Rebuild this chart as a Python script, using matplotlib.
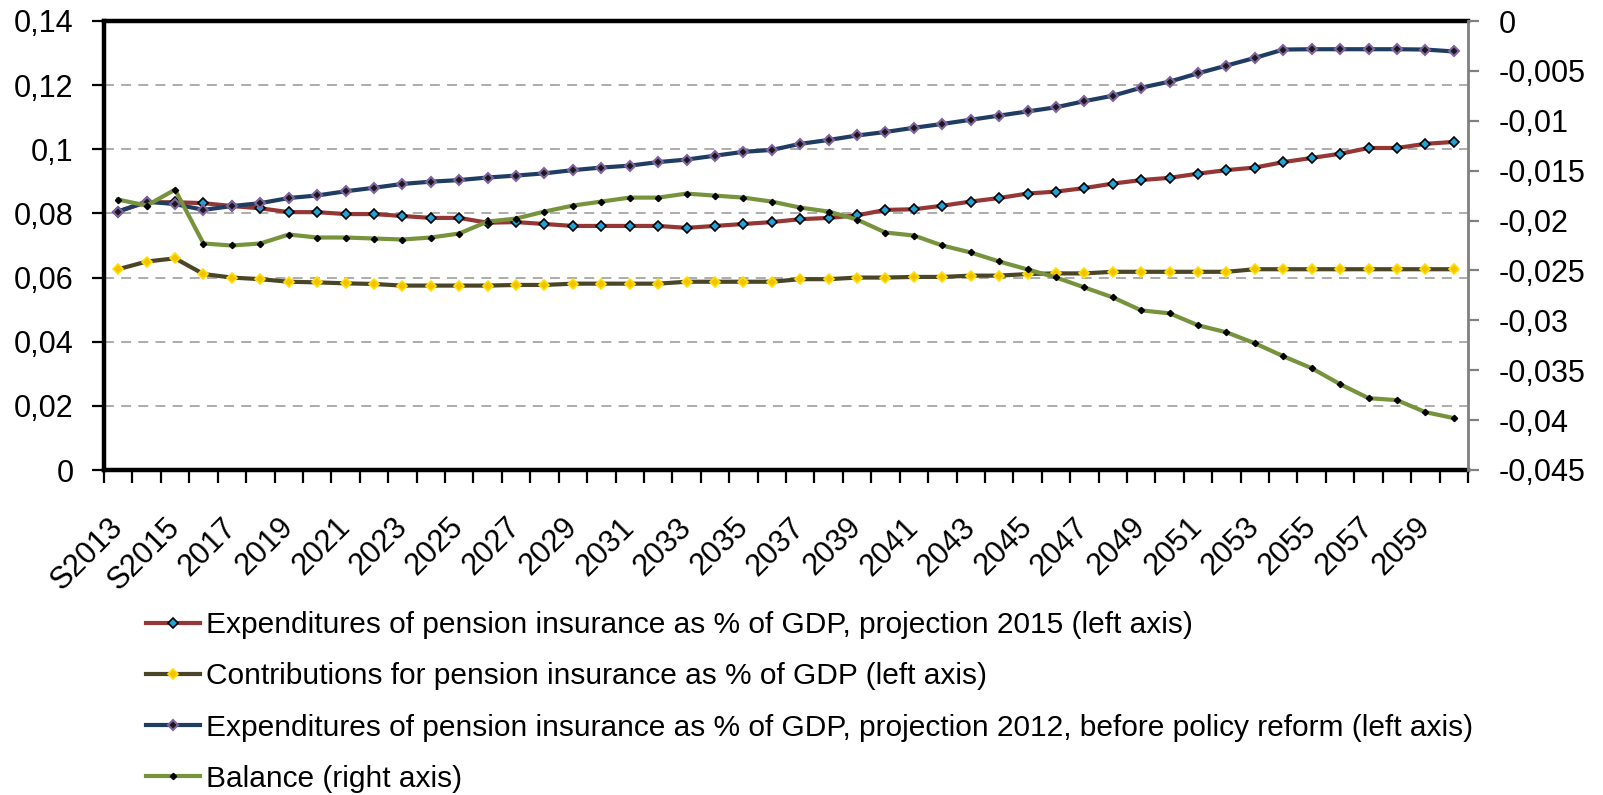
import numpy as np
import matplotlib
matplotlib.use("Agg")
import matplotlib.pyplot as plt
from matplotlib.ticker import FuncFormatter, FixedLocator
from matplotlib.transforms import ScaledTranslation

plt.rcParams["font.family"] = ["Liberation Sans", "DejaVu Sans"]

years = ["S2013", "S2014", "S2015"] + [str(y) for y in range(2016, 2061)]

exp_2015 = [0.0806, 0.0835, 0.0835, 0.0832, 0.0823, 0.0816, 0.0804, 0.0804, 0.0798, 0.0798,
            0.0792, 0.0786, 0.0786, 0.0771, 0.0773, 0.0767, 0.0761, 0.0761, 0.0761, 0.0761,
            0.0755, 0.0761, 0.0767, 0.0773, 0.0782, 0.0786, 0.0794, 0.0811, 0.0813, 0.0824,
            0.0837, 0.0848, 0.0862, 0.0868, 0.0879, 0.0893, 0.0904, 0.0911, 0.0924, 0.0935,
            0.0943, 0.0960, 0.0973, 0.0986, 0.1004, 0.1004, 0.1017, 0.1023]
contrib = [0.0626, 0.0650, 0.0660, 0.0611, 0.0600, 0.0595, 0.0587, 0.0585, 0.0582, 0.0580,
           0.0575, 0.0575, 0.0575, 0.0575, 0.0577, 0.0577, 0.0581, 0.0581, 0.0581, 0.0581,
           0.0587, 0.0587, 0.0587, 0.0587, 0.0595, 0.0595, 0.0600, 0.0600, 0.0602, 0.0602,
           0.0606, 0.0606, 0.0611, 0.0613, 0.0613, 0.0618, 0.0618, 0.0618, 0.0618, 0.0618,
           0.0626, 0.0626, 0.0626, 0.0626, 0.0626, 0.0626, 0.0626, 0.0626]
exp_2012 = [0.0806, 0.0837, 0.0829, 0.0811, 0.0823, 0.0832, 0.0848, 0.0856, 0.0869, 0.0880,
            0.0892, 0.0899, 0.0904, 0.0912, 0.0918, 0.0925, 0.0935, 0.0943, 0.0949, 0.0960,
            0.0968, 0.0980, 0.0992, 0.0998, 0.1017, 0.1029, 0.1043, 0.1054, 0.1067, 0.1079,
            0.1092, 0.1105, 0.1118, 0.1131, 0.1150, 0.1167, 0.1192, 0.1211, 0.1237, 0.1261,
            0.1285, 0.1311, 0.1312, 0.1312, 0.1312, 0.1312, 0.1311, 0.1305]
balance = [-0.0179, -0.0185, -0.0169, -0.0223, -0.0225, -0.0223, -0.0214, -0.0217, -0.0217, -0.0218,
           -0.0219, -0.0217, -0.0213, -0.0201, -0.0198, -0.0191, -0.0185, -0.0181, -0.0177, -0.0177,
           -0.0173, -0.0175, -0.0177, -0.0181, -0.0187, -0.0191, -0.0199, -0.0212, -0.0215, -0.0225,
           -0.0232, -0.0241, -0.0249, -0.0257, -0.0267, -0.0277, -0.0290, -0.0293, -0.0305, -0.0312,
           -0.0323, -0.0336, -0.0348, -0.0364, -0.0378, -0.0380, -0.0392, -0.0398]

labels = ["Expenditures of pension insurance as % of GDP, projection 2015 (left axis)",
          "Contributions for pension insurance as % of GDP (left axis)",
          "Expenditures of pension insurance as % of GDP, projection 2012, before policy reform (left axis)",
          "Balance (right axis)"]

def comma(v, pos=None):
    if abs(v) < 1e-12:
        return "0"
    return f"{v:g}".replace(".", ",")

x = np.arange(len(years))
W, H = 1603, 795
fig = plt.figure(figsize=(W / 100, H / 100), dpi=100)
ax = fig.add_axes([104 / W, 1 - 470 / H, (1468 - 104) / W, 449 / H])
ax2 = ax.twinx()

l1, = ax.plot(x, exp_2015, color="#953735", lw=3, marker="D", ms=5.5,
              mfc="#1fa3d9", mec="black", mew=1.2, zorder=3)
l2, = ax.plot(x, contrib, color="#4a4526", lw=3, marker="D", ms=5.5,
              mfc="#f2c200", mec="#ffe000", mew=1.2, zorder=3)
l3, = ax.plot(x, exp_2012, color="#1f3d63", lw=3, marker="D", ms=5.5,
              mfc="#1a1a1a", mec="#8064a2", mew=1.5, zorder=3)
l4, = ax2.plot(x, balance, color="#77933c", lw=3, marker="D", ms=3.2,
               mfc="black", mec="black", zorder=3)

ax.set_xlim(-0.5, len(years) - 0.5)
ax.set_ylim(0, 0.14)
ax.set_yticks(np.arange(0, 0.1401, 0.02))
ax.yaxis.set_major_formatter(FuncFormatter(comma))
ax2.set_ylim(-0.045, 0)
ax2.set_yticks(np.arange(-0.045, 0.0001, 0.005))
ax2.yaxis.set_major_formatter(FuncFormatter(comma))

for g in np.arange(0.02, 0.121, 0.02):
    ax.axhline(g, color="#a6a6a6", lw=1.3, ls=(0, (5.5, 4)), zorder=1)

# labels every second category, tick marks between categories
ax.xaxis.set_major_locator(FixedLocator(x[::2]))
ax.set_xticklabels(years[::2], rotation=45, ha="right", va="center",
                   rotation_mode="anchor", fontsize=22)
shift = ScaledTranslation(6 / 100, 0, fig.dpi_scale_trans)
for lab in ax.get_xticklabels():
    lab.set_transform(lab.get_transform() + shift)
ax.xaxis.set_minor_locator(FixedLocator(np.arange(-0.5, len(years), 1.0)))
ax.tick_params(axis="x", which="major", length=0, pad=38)
ax.tick_params(axis="x", which="minor", length=9, width=1.6, direction="out", color="black")
ax.tick_params(axis="y", length=9, width=1.6, direction="out", labelsize=22, pad=13)
ax2.tick_params(axis="y", length=8, width=1.6, direction="out", colors="#808080",
                labelcolor="black", labelsize=22, pad=14)

for s in ("left", "bottom", "top"):
    ax.spines[s].set_linewidth(3.2)
    ax.spines[s].set_color("black")
ax.spines["right"].set_visible(False)
for s in ("left", "bottom", "top"):
    ax2.spines[s].set_visible(False)
ax2.spines["right"].set_color("#808080")
ax2.spines["right"].set_linewidth(2)

fig.legend([l1, l2, l3, l4], labels, loc="upper left",
           bbox_to_anchor=(146 / W, 1 - 611 / H), frameon=False, fontsize=21.5,
           handlelength=1.8, handletextpad=0.2, labelspacing=0.78,
           borderpad=0, borderaxespad=0, numpoints=1)

fig.savefig("out.png", dpi=100)
